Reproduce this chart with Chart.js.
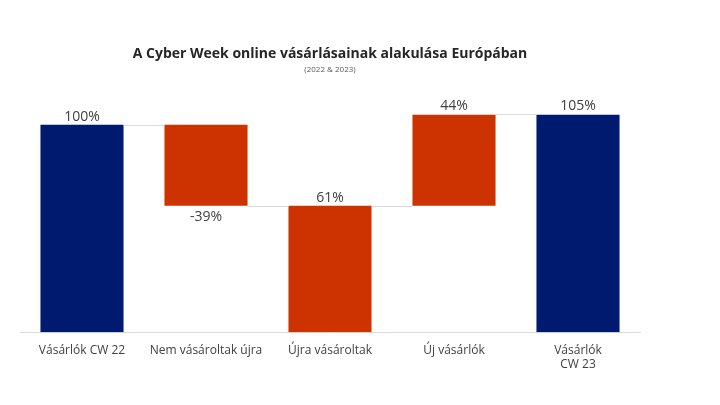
<!DOCTYPE html>
<html>
<head>
<meta charset="utf-8">
<script src="https://cdn.jsdelivr.net/npm/chart.js@4"></script>
<style>
  html, body { margin: 0; padding: 0; background: #fff; }
  #wrap { width: 720px; height: 405px; }
</style>
</head>
<body>
<div id="wrap"><canvas id="chart"></canvas></div>
<script>
const categories = ["Vásárlók CW 22", "Nem vásároltak újra", "Újra vásároltak", "Új vásárlók", ["Vásárlók", "CW 23"]];
const barStart = [0, 61, 0, 61, 0];
const barEnd = [100, 100, 61, 105, 105];
const valueLabels = ["100%", "-39%", "61%", "44%", "105%"];
const labelBelow = [false, true, false, false, false];
const barColors = ["#001a70", "#cc3300", "#cc3300", "#cc3300", "#001a70"];

// connectors: from top of bar i to next bar
const connectorLevels = [100, 61, 61, 105];

const waterfallPlugin = {
    id: "waterfall",
    afterDatasetsDraw(chart) {
        const ctx = chart.ctx;
        const meta = chart.getDatasetMeta(0);
        const y = chart.scales.y;
        ctx.save();
        ctx.strokeStyle = "#d9d9d9";
        ctx.lineWidth = 1;
        connectorLevels.forEach((lvl, i) => {
            const a = meta.data[i], b = meta.data[i + 1];
            const py = Math.round(y.getPixelForValue(lvl)) + 0.5;
            ctx.beginPath();
            ctx.moveTo(a.x + a.width / 2, py);
            ctx.lineTo(b.x - b.width / 2, py);
            ctx.stroke();
        });
        ctx.fillStyle = "#404040";
        ctx.font = "14px 'Open Sans', sans-serif";
        ctx.textAlign = "center";
        meta.data.forEach((bar, i) => {
            if (labelBelow[i]) {
                ctx.textBaseline = "top";
                ctx.fillText(valueLabels[i], bar.x, y.getPixelForValue(barStart[i]) + 4);
            } else {
                ctx.textBaseline = "bottom";
                ctx.fillText(valueLabels[i], bar.x, y.getPixelForValue(barEnd[i]) - 1);
            }
        });
        ctx.restore();
    },
};

new Chart(document.getElementById("chart"), {
    type: "bar",
    data: {
        labels: categories,
        datasets: [{
            data: barStart.map((s, i) => [s, barEnd[i]]),
            backgroundColor: barColors,
            categoryPercentage: 0.67,
            barPercentage: 1,
        }],
    },
    plugins: [waterfallPlugin],
    options: {
        responsive: true,
        maintainAspectRatio: false,
        animation: false,
        layout: { padding: { top: 46, left: 20, right: 80, bottom: 30 } },
        plugins: {
            legend: { display: false },
            tooltip: { enabled: false },
            title: {
                display: true,
                text: "A Cyber Week online vásárlásainak alakulása Európában",
                color: "#262626",
                font: { family: "'Open Sans', sans-serif", size: 14, weight: "bold" },
                padding: { top: 0, bottom: 2 },
            },
            subtitle: {
                display: true,
                text: "(2022 & 2023)",
                color: "#595959",
                font: { family: "'Open Sans', sans-serif", size: 8 },
                padding: { top: 0, bottom: 40 },
            },
        },
        scales: {
            x: {
                grid: { display: false },
                border: { color: "#d9d9d9" },
                ticks: { color: "#404040", font: { family: "'Open Sans', sans-serif", size: 12 }, maxRotation: 0 },
            },
            y: {
                display: false,
                min: 0,
                max: 105,
            },
        },
    },
});
</script>
</body>
</html>
